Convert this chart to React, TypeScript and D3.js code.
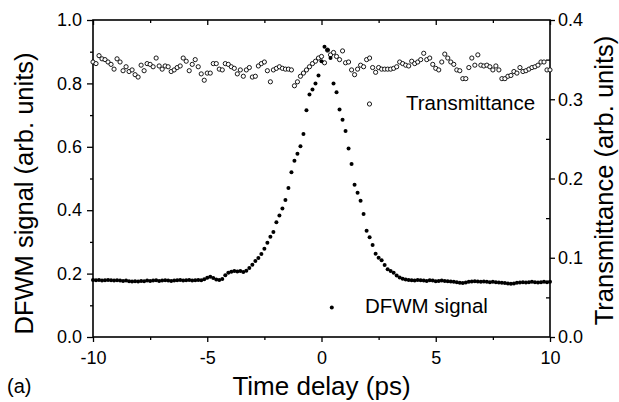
import React, { useRef, useEffect } from 'react';
import * as d3 from 'd3';

// axis ticks
const xTicks = [-10, -5, 0, 5, 10];
const xMinorTicks = [-7.5, -2.5, 2.5, 7.5];
const leftTicks = [0.0, 0.2, 0.4, 0.6, 0.8, 1.0];
const leftMinorTicks = [0.1, 0.3, 0.5, 0.7, 0.9];
const rightTicks = [0.0, 0.1, 0.2, 0.3, 0.4];
const rightMinorTicks = [0.05, 0.15, 0.25, 0.35];

// open circles, right axis (-10 ps to 10 ps)
const transmittance = [
  0.347, 0.345, 0.355, 0.351, 0.350, 0.347, 0.344, 0.338, 0.351, 0.347,
  0.336, 0.341, 0.335, 0.337, 0.331, 0.328, 0.343, 0.336, 0.345, 0.344,
  0.341, 0.352, 0.342, 0.338, 0.342, 0.341, 0.335, 0.337, 0.340, 0.342,
  0.352, 0.348, 0.336, 0.344, 0.350, 0.341, 0.332, 0.324,
  0.333, 0.333, 0.345, 0.345, 0.338, 0.337, 0.345, 0.344, 0.341, 0.339,
  0.332, 0.337, 0.329, 0.337, 0.340, 0.328, 0.329, 0.342, 0.345, 0.347,
  0.336, 0.322, 0.337, 0.339, 0.341, 0.339, 0.338, 0.338, 0.337, 0.317,
  0.322, 0.329, 0.333, 0.337, 0.341, 0.345, 0.348,
  0.352, 0.354, 0.346, 0.362, 0.356, 0.359, 0.354, 0.350, 0.361, 0.346,
  0.347, 0.337, 0.331, 0.338, 0.343, 0.341, 0.350, 0.352, 0.340, 0.334,
  0.340, 0.338, 0.338, 0.338, 0.338, 0.339, 0.341, 0.347, 0.345, 0.343,
  0.342, 0.348, 0.345, 0.347, 0.350, 0.358, 0.350, 0.352, 0.344, 0.339,
  0.337, 0.347, 0.357, 0.352, 0.347, 0.344, 0.337, 0.336, 0.326, 0.326,
  0.340, 0.352, 0.343, 0.356, 0.343, 0.342, 0.343, 0.341, 0.337, 0.342,
  0.337, 0.326, 0.326, 0.329, 0.330, 0.335, 0.333, 0.340, 0.335, 0.336,
  0.338, 0.340, 0.341, 0.343, 0.347, 0.347, 0.337, 0.337
];

// filled dots, left axis
const dfwmSignal = [
  0.180, 0.179, 0.180, 0.178, 0.179, 0.180, 0.179, 0.178, 0.179, 0.178,
  0.177, 0.178, 0.176, 0.175, 0.176, 0.175, 0.177, 0.176, 0.178, 0.177,
  0.178, 0.179, 0.177, 0.178, 0.179, 0.178, 0.177, 0.178, 0.179, 0.180,
  0.178, 0.179, 0.180, 0.178, 0.179, 0.180, 0.179,
  0.182, 0.187, 0.190, 0.186, 0.181, 0.180, 0.183, 0.195, 0.203, 0.206,
  0.208, 0.207, 0.208, 0.205, 0.209, 0.218, 0.228, 0.240, 0.249, 0.262,
  0.278, 0.297, 0.316, 0.331, 0.362, 0.383, 0.405, 0.432, 0.470, 0.520,
  0.556, 0.578, 0.602, 0.640, 0.715, 0.765, 0.781, 0.800, 0.825, 0.870,
  0.916, 0.905, 0.880, 0.800, 0.772, 0.718, 0.685, 0.650, 0.595, 0.546,
  0.480, 0.455, 0.430, 0.388, 0.335, 0.315, 0.290, 0.263, 0.250, 0.242,
  0.227, 0.214, 0.208, 0.203, 0.194, 0.188, 0.184, 0.181,
  0.180, 0.179, 0.178, 0.180, 0.179,
  0.178, 0.177, 0.179, 0.178, 0.176, 0.177, 0.178, 0.177, 0.176, 0.175,
  0.174, 0.173, 0.171, 0.170, 0.172, 0.174, 0.175, 0.176, 0.175, 0.174,
  0.175, 0.174, 0.173, 0.174, 0.173, 0.172, 0.171, 0.170, 0.169, 0.168,
  0.169, 0.171, 0.172, 0.173, 0.172, 0.173, 0.174, 0.173, 0.172, 0.173,
  0.174, 0.173, 0.174
];

// uniform delay grid of the scan
const timeDelay = d3.range(transmittance.length).map(i => -10 + (20 * i) / (transmittance.length - 1));

const FONT = '"Liberation Sans", Arial, Helvetica, sans-serif';

const Chart = ({ width, height }) => {
  const svgRef = useRef(null);

  useEffect(() => {
    const svg = d3.select(svgRef.current);
    const margin = { top: 20, right: 69, bottom: 65, left: 93 };
    const innerWidth = width - margin.left - margin.right;
    const innerHeight = height - margin.top - margin.bottom;

    const x = d3.scaleLinear().domain([-10, 10]).range([0, innerWidth]);
    const yLeft = d3.scaleLinear().domain([0, 1]).range([innerHeight, 0]);
    const yRight = d3.scaleLinear().domain([0, 0.4]).range([innerHeight, 0]);

    svg.selectAll('*').remove();

    const g = svg.append('g')
      .attr('transform', `translate(${margin.left},${margin.top})`);

    const styleAxis = (sel, size) => {
      sel.select('.domain').remove();
      sel.selectAll('line').attr('stroke', '#000').attr('stroke-width', 1.3);
      sel.selectAll('text')
        .attr('fill', '#000')
        .style('font-family', FONT)
        .style('font-size', `${size}px`);
    };

    // bottom axis
    g.append('g')
      .attr('transform', `translate(0,${innerHeight})`)
      .call(d3.axisBottom(x).tickValues(xTicks).tickSize(5).tickPadding(9).tickFormat(d => String(d)))
      .call(s => styleAxis(s, 18));
    g.append('g')
      .attr('transform', `translate(0,${innerHeight})`)
      .call(d3.axisBottom(x).tickValues(xMinorTicks).tickSize(3).tickFormat(() => ''))
      .call(s => styleAxis(s, 18));

    // top axis, ticks inward
    g.append('g')
      .call(d3.axisBottom(x).tickValues(xTicks).tickSize(5).tickFormat(() => ''))
      .call(s => styleAxis(s, 18));
    g.append('g')
      .call(d3.axisBottom(x).tickValues(xMinorTicks).tickSize(3).tickFormat(() => ''))
      .call(s => styleAxis(s, 18));

    // left axis
    g.append('g')
      .call(d3.axisLeft(yLeft).tickValues(leftTicks).tickSize(6).tickPadding(5).tickFormat(d3.format('.1f')))
      .call(s => styleAxis(s, 18));
    g.append('g')
      .call(d3.axisLeft(yLeft).tickValues(leftMinorTicks).tickSize(3).tickFormat(() => ''))
      .call(s => styleAxis(s, 18));

    // right axis, minor ticks inward
    g.append('g')
      .attr('transform', `translate(${innerWidth},0)`)
      .call(d3.axisRight(yRight).tickValues(rightTicks).tickSize(5).tickPadding(3).tickFormat(d3.format('.1f')))
      .call(s => styleAxis(s, 18));
    g.append('g')
      .attr('transform', `translate(${innerWidth},0)`)
      .call(d3.axisLeft(yRight).tickValues(rightMinorTicks).tickSize(4).tickFormat(() => ''))
      .call(s => styleAxis(s, 18));

    // frame
    g.append('rect')
      .attr('width', innerWidth)
      .attr('height', innerHeight)
      .attr('fill', 'none')
      .attr('stroke', '#000')
      .attr('stroke-width', 1.6);

    // transmittance (open circles)
    g.append('g')
      .selectAll('circle')
      .data(transmittance)
      .join('circle')
      .attr('cx', (d, i) => x(timeDelay[i]))
      .attr('cy', d => yRight(d))
      .attr('r', 2.1)
      .attr('fill', '#fff')
      .attr('stroke', '#000')
      .attr('stroke-width', 0.9);

    // DFWM signal (filled dots)
    g.append('g')
      .selectAll('circle')
      .data(dfwmSignal)
      .join('circle')
      .attr('cx', (d, i) => x(timeDelay[i]))
      .attr('cy', d => yLeft(d))
      .attr('r', 2)
      .attr('fill', '#000');

    // legend
    g.append('circle')
      .attr('cx', x(2.1)).attr('cy', yLeft(0.735))
      .attr('r', 2.1).attr('fill', '#fff').attr('stroke', '#000').attr('stroke-width', 0.9);
    g.append('text')
      .attr('x', x(3.7)).attr('y', yLeft(0.715))
      .style('font-family', FONT).style('font-size', '20.5px')
      .text('Transmittance');
    g.append('circle')
      .attr('cx', x(0.45)).attr('cy', yLeft(0.093))
      .attr('r', 2).attr('fill', '#000');
    g.append('text')
      .attr('x', x(1.9)).attr('y', yLeft(0.075))
      .style('font-family', FONT).style('font-size', '20.5px')
      .text('DFWM signal');

    // axis titles
    svg.append('text')
      .attr('x', margin.left + innerWidth / 2)
      .attr('y', 395)
      .attr('text-anchor', 'middle')
      .style('font-family', FONT).style('font-size', '26px')
      .text('Time delay (ps)');
    svg.append('text')
      .attr('transform', `translate(33,${margin.top + innerHeight / 2 + 15}) rotate(-90)`)
      .attr('text-anchor', 'middle')
      .style('font-family', FONT).style('font-size', '25.5px')
      .text('DFWM signal (arb. units)');
    svg.append('text')
      .attr('transform', `translate(613,${margin.top + innerHeight / 2 + 2}) rotate(-90)`)
      .attr('text-anchor', 'middle')
      .style('font-family', FONT).style('font-size', '25.5px')
      .text('Transmittance (arb. units)');

    svg.append('text')
      .attr('x', 7).attr('y', 393)
      .style('font-family', FONT).style('font-size', '20px')
      .text('(a)');
  }, [width, height]);

  return (
    <svg ref={svgRef} width={width} height={height}
      style={{ position: 'absolute', left: 0, top: 0, background: '#fff' }} />
  );
};

export default function App() {
  return <Chart width={619} height={402} />;
}
